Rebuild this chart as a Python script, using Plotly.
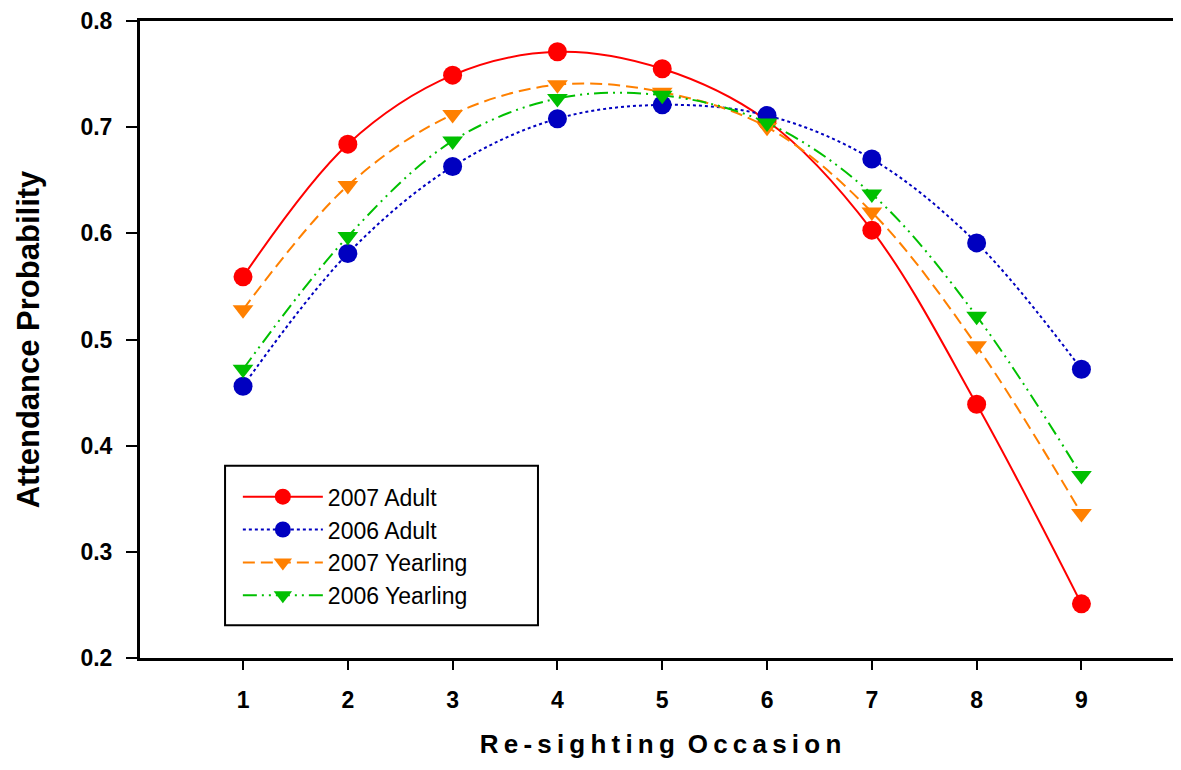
import plotly.graph_objects as go

occasion = [1, 2, 3, 4, 5, 6, 7, 8, 9]
adult_2007 = [0.559, 0.684, 0.749, 0.771, 0.755, 0.706, 0.603, 0.439, 0.251]
adult_2006 = [0.456, 0.581, 0.663, 0.708, 0.721, 0.711, 0.670, 0.591, 0.472]
yearling_2007 = [0.528, 0.645, 0.712, 0.740, 0.733, 0.700, 0.620, 0.494, 0.336]
yearling_2006 = [0.472, 0.597, 0.687, 0.727, 0.730, 0.704, 0.637, 0.522, 0.372]
y_ticks = [0.2, 0.3, 0.4, 0.5, 0.6, 0.7, 0.8]
x_ticks = occasion

series = [
    ("2007 Adult", adult_2007, "#FF0000", "solid", "circle"),
    ("2006 Adult", adult_2006, "#0000C0", "dot", "circle"),
    ("2007 Yearling", yearling_2007, "#FF8000", "12px,6px", "triangle-down"),
    ("2006 Yearling", yearling_2006, "#00C000", "14px,5px,2px,5px,2px,5px", "triangle-down"),
]

fig = go.Figure()
for name, vals, color, dash, sym in series:
    fig.add_trace(go.Scatter(
        x=occasion, y=vals, name=name, mode="lines+markers",
        line=dict(color=color, width=2, dash=dash, shape="spline", smoothing=1.0),
        marker=dict(color=color, size=19 if sym == "circle" else 18, symbol=sym,
                    line=dict(width=0)),
    ))

xtitle = "\u2009".join(list("Re-sighting")) + "\u2002" + "\u2009".join(list("Occasion"))

# legend frame
fig.add_shape(type="rect", xref="paper", yref="paper",
              x0=0.0817, x1=0.3823, y0=0.0516, y1=0.302,
              line=dict(color="black", width=2), fillcolor="white", layer="below")

fig.update_layout(
    width=1173, height=762,
    margin=dict(l=132, r=0, t=11, b=112),
    paper_bgcolor="white", plot_bgcolor="white",
    font=dict(family="Arial", color="black"),
    showlegend=True,
    legend=dict(
        x=0.094, y=0.287, xanchor="left", yanchor="top",
        borderwidth=0, bgcolor="rgba(0,0,0,0)",
        font=dict(size=23, family="Arial"),
        itemwidth=80, tracegroupgap=0,
    ),
    xaxis=dict(
        range=[0.017, 9.95], tickvals=x_ticks, ticktext=[str(v) for v in x_ticks],
        showgrid=False, zeroline=False,
        showline=True, linecolor="black", linewidth=3, mirror=True,
        ticks="outside", ticklen=9, tickwidth=2, tickcolor="black",
        ticklabelstandoff=10, ticklabeloverflow="allow",
        tickfont=dict(size=23, family="Arial", weight="bold"),
        title=dict(text=xtitle,
                   font=dict(size=26, family="Arial", weight="bold"), standoff=24),
    ),
    yaxis=dict(
        range=[0.2, 0.8], tickvals=y_ticks, ticktext=[f"{v:.1f}" for v in y_ticks],
        showgrid=False, zeroline=False,
        showline=True, linecolor="black", linewidth=3, mirror=False,
        ticks="outside", ticklen=11, tickwidth=2, tickcolor="black",
        ticklabelstandoff=9, ticklabeloverflow="allow",
        tickfont=dict(size=23, family="Arial", weight="bold"),
        title=dict(text="Attendance Probability",
                   font=dict(size=31, family="Arial", weight="bold"), standoff=32),
    ),
)

fig.write_html("out.html")
